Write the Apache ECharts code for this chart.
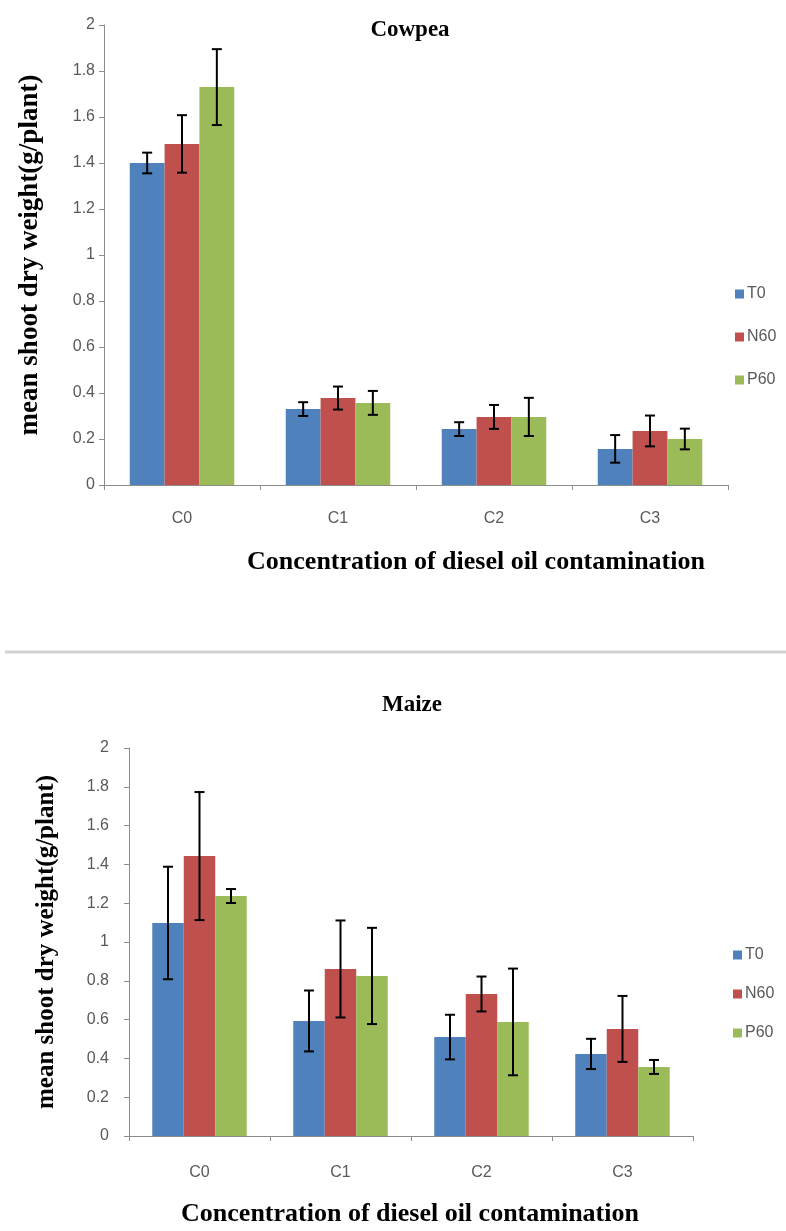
<!DOCTYPE html>
<html>
<head>
<meta charset="utf-8">
<script src="https://cdn.jsdelivr.net/npm/echarts@6/dist/echarts.min.js"></script>
<style>html,body{margin:0;padding:0;background:#fff;}#c{width:786px;height:1231px;}</style>
</head>
<body>
<div id="c"></div>
<script>
var categories = ['C0', 'C1', 'C2', 'C3'];
var seriesNames = ['T0', 'N60', 'P60'];
var yTickLabels = ['0', '0.2', '0.4', '0.6', '0.8', '1', '1.2', '1.4', '1.6', '1.8', '2'];

var cowpeaT0 = [1.40, 0.33, 0.243, 0.157];
var cowpeaN60 = [1.483, 0.378, 0.296, 0.235];
var cowpeaP60 = [1.73, 0.357, 0.296, 0.20];
var cowpeaT0Err = [0.045, 0.03, 0.03, 0.06];
var cowpeaN60Err = [0.125, 0.05, 0.052, 0.067];
var cowpeaP60Err = [0.165, 0.052, 0.083, 0.045];

var maizeT0 = [1.098, 0.593, 0.51, 0.423];
var maizeN60 = [1.443, 0.861, 0.732, 0.552];
var maizeP60 = [1.237, 0.825, 0.588, 0.356];
var maizeT0Err = [0.29, 0.157, 0.115, 0.078];
var maizeN60Err = [0.33, 0.25, 0.09, 0.17];
var maizeP60Err = [0.036, 0.248, 0.275, 0.036];

var colors = ['#4F81BD', '#C0504D', '#9BBB59'];
var CAT_GAP = 0.33;
var serif = '"Liberation Serif", "DejaVu Serif", serif';
var sans = '"Liberation Sans", Arial, sans-serif';

function errData(vals, errs) {
  return vals.map(function (v, i) { return [i, v - errs[i], v + errs[i]]; });
}
function errRender(k) {
  return function (params, api) {
    var cat = api.value(0), lo = api.value(1), hi = api.value(2);
    var band = api.size([1, 0])[0];
    var barW = band * (1 - CAT_GAP) / 3;
    var pLo = api.coord([cat, lo]);
    var pHi = api.coord([cat, hi]);
    var x = pLo[0] + (k - 1) * barW;
    var cap = 5;
    var st = { stroke: '#000', lineWidth: 2 };
    return {
      type: 'group',
      children: [
        { type: 'line', shape: { x1: x, y1: pLo[1], x2: x, y2: pHi[1] }, style: st },
        { type: 'line', shape: { x1: x - cap, y1: pLo[1], x2: x + cap, y2: pLo[1] }, style: st },
        { type: 'line', shape: { x1: x - cap, y1: pHi[1], x2: x + cap, y2: pHi[1] }, style: st }
      ]
    };
  };
}

function yAxisCfg(gi, gap, fs, lm) {
  return {
    gridIndex: gi, type: 'value', min: 0, max: 2, interval: 0.2,
    name: 'mean shoot dry weight(g/plant)', nameLocation: 'middle', nameGap: gap,
    nameTextStyle: { fontFamily: serif, fontWeight: 'bold', fontSize: fs, color: '#000' },
    axisLine: { show: true, lineStyle: { color: '#8c8c8c', width: 1 } },
    axisTick: { show: true, length: 5, lineStyle: { color: '#8c8c8c' } },
    splitLine: { show: false },
    axisLabel: {
      fontFamily: sans, fontSize: 16, color: '#595959', margin: lm,
      formatter: function (v) { return yTickLabels[Math.round(v / 0.2)]; }
    }
  };
}
function xAxisCfg(gi, margin) {
  return {
    gridIndex: gi, type: 'category', data: categories,
    axisLine: { show: true, lineStyle: { color: '#8c8c8c', width: 1 } },
    axisTick: { show: true, length: 5, alignWithLabel: false, lineStyle: { color: '#8c8c8c' } },
    axisLabel: { fontFamily: sans, fontSize: 16, color: '#595959', margin: margin }
  };
}

var series = [];
var groups = [
  { vals: [cowpeaT0, cowpeaN60, cowpeaP60], errs: [cowpeaT0Err, cowpeaN60Err, cowpeaP60Err] },
  { vals: [maizeT0, maizeN60, maizeP60], errs: [maizeT0Err, maizeN60Err, maizeP60Err] }
];
groups.forEach(function (g, gi) {
  for (var k = 0; k < 3; k++) {
    series.push({
      type: 'bar', name: seriesNames[k], xAxisIndex: gi, yAxisIndex: gi,
      data: g.vals[k], itemStyle: { color: colors[k] },
      barGap: '0%', barCategoryGap: (CAT_GAP * 100) + '%', silent: true
    });
  }
  for (var k2 = 0; k2 < 3; k2++) {
    series.push({
      type: 'custom', xAxisIndex: gi, yAxisIndex: gi, silent: true,
      renderItem: errRender(k2), data: errData(g.vals[k2], g.errs[k2]), z: 10
    });
  }
});

var chart = echarts.init(document.getElementById('c'), null, { renderer: 'canvas' });
chart.setOption({
  animation: false,
  color: colors,
  title: [
    { text: 'Cowpea', left: 405, top: 14, textAlign: 'center', textStyle: { fontFamily: serif, fontWeight: 'bold', fontSize: 23, color: '#000' } },
    { text: 'Concentration of diesel oil contamination', left: 471, top: 544, textAlign: 'center', textStyle: { fontFamily: serif, fontWeight: 'bold', fontSize: 26, color: '#000' } },
    { text: 'Maize', left: 407, top: 689, textAlign: 'center', textStyle: { fontFamily: serif, fontWeight: 'bold', fontSize: 23, color: '#000' } },
    { text: 'Concentration of diesel oil contamination', left: 405, top: 1196, textAlign: 'center', textStyle: { fontFamily: serif, fontWeight: 'bold', fontSize: 26, color: '#000' } }
  ],
  legend: [
    { data: seriesNames, orient: 'vertical', left: 730, top: 281, itemWidth: 9, itemHeight: 9, itemGap: 27, icon: 'rect',
      textStyle: { fontFamily: sans, fontSize: 16, color: '#595959', padding: [0, 0, 0, -2] } },
    { data: seriesNames, orient: 'vertical', left: 728, top: 942, itemWidth: 9, itemHeight: 9, itemGap: 23, icon: 'rect',
      textStyle: { fontFamily: sans, fontSize: 16, color: '#595959', padding: [0, 0, 0, -2] } }
  ],
  grid: [
    { left: 104, top: 25, width: 624, height: 460 },
    { left: 129, top: 748, width: 564, height: 388 }
  ],
  xAxis: [xAxisCfg(0, 26), xAxisCfg(1, 29)],
  yAxis: [yAxisCfg(0, 60, 27, 9), yAxisCfg(1, 70, 25, 20)],
  graphic: [
    { type: 'line', shape: { x1: 5, y1: 652, x2: 786, y2: 652 }, style: { stroke: '#d2d2d2', lineWidth: 3 } }
  ],
  series: series
});
</script>
</body>
</html>
